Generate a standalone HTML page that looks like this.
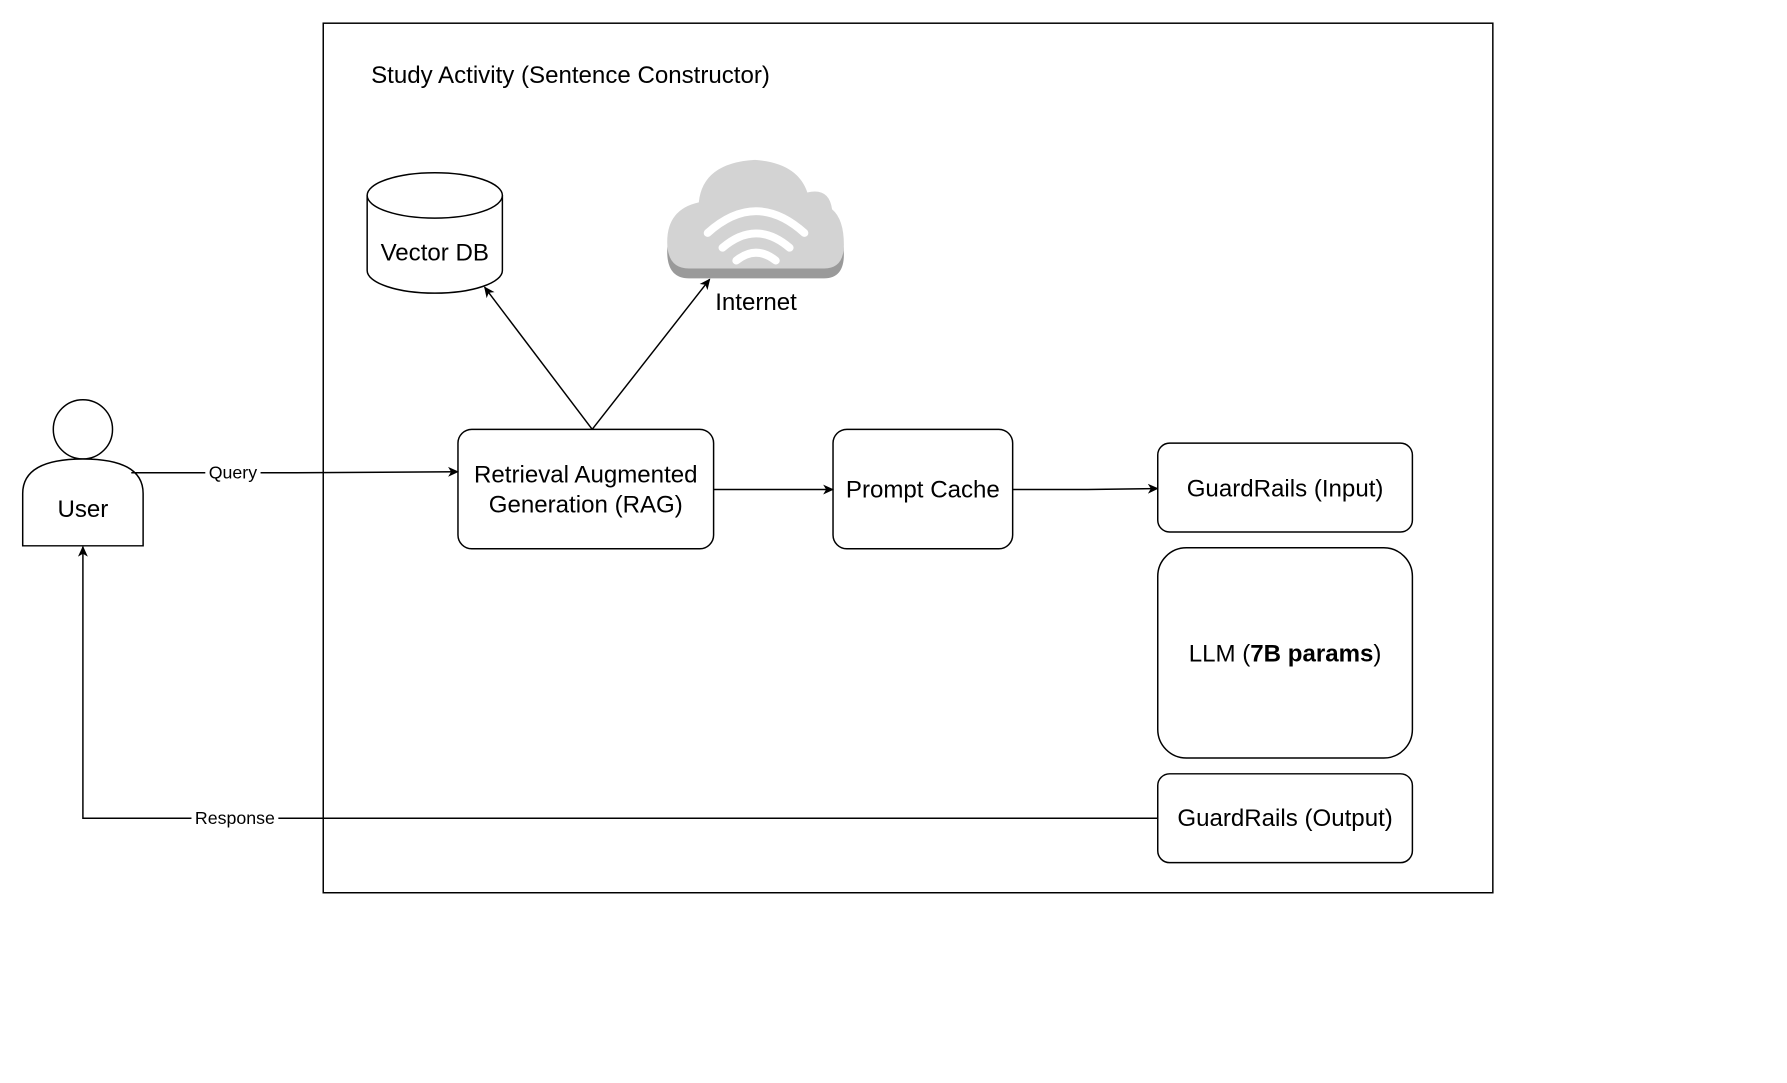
<!DOCTYPE html>
<html><head><meta charset="utf-8"><style>
html,body{margin:0;padding:0;background:#fff;}
svg{display:block;font-family:"Liberation Sans",Arial,sans-serif;}
</style></head><body>
<svg width="1787" height="1083" viewBox="0 0 1787 1083" xmlns="http://www.w3.org/2000/svg">
<defs>
<marker id="a" markerWidth="12" markerHeight="12" refX="10" refY="6" orient="auto" markerUnits="userSpaceOnUse">
<path d="M0,1 L11,6 L0,11 L3,6 Z" fill="#000"/>
</marker>
</defs>
<g transform="scale(0.987)">
<rect x="327.5" y="23.5" width="1185" height="881" fill="none" stroke="#000" stroke-width="1.5"/>
<text x="376" y="84" font-size="24.4">Study Activity (Sentence Constructor)</text>

<path d="M372,198 L372,274 A68.5,23 0 0 0 509,274 L509,198" fill="#fff" stroke="#000" stroke-width="1.5"/>
<ellipse cx="440.5" cy="198" rx="68.5" ry="23" fill="#fff" stroke="#000" stroke-width="1.5"/>
<text x="440.5" y="264" font-size="24.4" text-anchor="middle">Vector DB</text>

<g>
<path transform="translate(0,10)" d="M698,272 Q676,272 676,245 Q676,212 708,205 Q712,165 765,162 Q808,165 818,195 Q840,190 843,212 Q855,222 855,248 Q855,272 835,272 Z" fill="#9a9a9a"/>
<path d="M698,272 Q676,272 676,245 Q676,212 708,205 Q712,165 765,162 Q808,165 818,195 Q840,190 843,212 Q855,222 855,248 Q855,272 835,272 Z" fill="#d3d3d3"/>
<g fill="none" stroke="#fff" stroke-linecap="round" stroke-width="8">
<path d="M717,236 Q766,192 815,236"/>
<path d="M732,251 Q766,222 800,251"/>
<path d="M746,264 Q766,248 786,264"/>
</g>
</g>
<text x="766" y="314" font-size="24.4" text-anchor="middle">Internet</text>

<line x1="600" y1="435" x2="491" y2="291" stroke="#000" stroke-width="1.5" marker-end="url(#a)"/>
<line x1="600" y1="435" x2="719" y2="283" stroke="#000" stroke-width="1.5" marker-end="url(#a)"/>

<rect x="464" y="435" width="259" height="121" rx="14" fill="#fff" stroke="#000" stroke-width="1.5"/>
<text x="593.5" y="489" font-size="24.4" text-anchor="middle">Retrieval Augmented</text>
<text x="593.5" y="519" font-size="24.4" text-anchor="middle">Generation (RAG)</text>

<rect x="844" y="435" width="182" height="121" rx="14" fill="#fff" stroke="#000" stroke-width="1.5"/>
<text x="935" y="504" font-size="24.4" text-anchor="middle">Prompt Cache</text>

<line x1="723" y1="496" x2="844" y2="496" stroke="#000" stroke-width="1.5" marker-end="url(#a)"/>
<polyline points="1026,496 1102,496 1173,495" fill="none" stroke="#000" stroke-width="1.5" marker-end="url(#a)"/>

<rect x="1173" y="449" width="258" height="90" rx="12" fill="#fff" stroke="#000" stroke-width="1.5"/>
<text x="1302" y="503" font-size="24.4" text-anchor="middle">GuardRails (Input)</text>
<rect x="1173" y="555" width="258" height="213" rx="29" fill="#fff" stroke="#000" stroke-width="1.5"/>
<text x="1302" y="670" font-size="24.4" text-anchor="middle">LLM (<tspan font-weight="bold">7B params</tspan>)</text>
<rect x="1173" y="784" width="258" height="90" rx="12" fill="#fff" stroke="#000" stroke-width="1.5"/>
<text x="1302" y="837" font-size="24.4" text-anchor="middle">GuardRails (Output)</text>

<circle cx="84" cy="435" r="30" fill="#fff" stroke="#000" stroke-width="1.5"/>
<path d="M23,553 L23,500 Q23,465 84,465 Q145,465 145,500 L145,553 Z" fill="#fff" stroke="#000" stroke-width="1.5"/>
<text x="84" y="524" font-size="24.4" text-anchor="middle">User</text>

<polyline points="133,479 300,479 464,478" fill="none" stroke="#000" stroke-width="1.5" marker-end="url(#a)"/>
<rect x="208" y="468" width="56" height="22" fill="#fff"/>
<text x="236" y="485" font-size="18" text-anchor="middle">Query</text>

<polyline points="1173,829 84,829 84,554" fill="none" stroke="#000" stroke-width="1.5" marker-end="url(#a)"/>
<rect x="194" y="818" width="88" height="22" fill="#fff"/>
<text x="238" y="835" font-size="18" text-anchor="middle">Response</text>
</g>
</svg>
</body></html>
